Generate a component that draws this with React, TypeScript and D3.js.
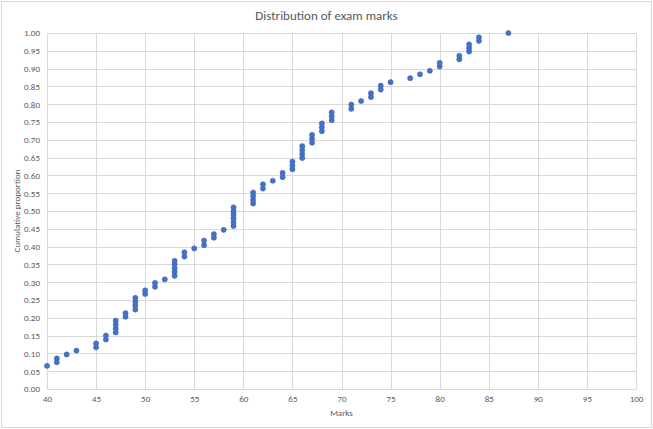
/**
 * D3 scatter chart: cumulative proportion of students by exam mark.
 */
import * as d3 from 'd3';
import { useEffect, useRef } from 'react';

// one entry per student
const marks = [
  40, 41, 41, 42, 43, 45, 45, 46, 46, 47, 47, 47, 47, 48, 48, 49, 49, 49, 49, 50, 50, 51, 51, 52,
  53, 53, 53, 53, 53, 54, 54, 55, 56, 56, 57, 57, 58, 59, 59, 59, 59, 59, 59, 61, 61, 61, 61, 62,
  62, 63, 64, 64, 65, 65, 65, 66, 66, 66, 66, 67, 67, 67, 68, 68, 68, 69, 69, 69, 71, 71, 72, 73,
  73, 74, 74, 75, 77, 78, 79, 80, 80, 82, 82, 83, 83, 83, 84, 84, 87,
];
const cumulative = [
  0.065, 0.075, 0.086, 0.097, 0.108, 0.117, 0.128, 0.139, 0.150, 0.159, 0.170, 0.181, 0.192, 0.203,
  0.213, 0.223, 0.234, 0.245, 0.256, 0.267, 0.277, 0.287, 0.298, 0.308, 0.318, 0.329, 0.339, 0.350,
  0.360, 0.372, 0.384, 0.395, 0.404, 0.417, 0.425, 0.435, 0.447, 0.458, 0.468, 0.479, 0.489, 0.499,
  0.510, 0.521, 0.531, 0.542, 0.552, 0.563, 0.575, 0.585, 0.595, 0.607, 0.617, 0.628, 0.639, 0.649,
  0.660, 0.671, 0.682, 0.692, 0.703, 0.714, 0.724, 0.735, 0.746, 0.755, 0.766, 0.777, 0.787, 0.799,
  0.809, 0.820, 0.831, 0.841, 0.852, 0.862, 0.873, 0.884, 0.894, 0.906, 0.916, 0.926, 0.936, 0.948,
  0.958, 0.968, 0.978, 0.988, 1.0,
];
const xTicks = [40, 45, 50, 55, 60, 65, 70, 75, 80, 85, 90, 95, 100];
const yTicks = d3.range(0, 21).map((i) => i / 20);

const FONT = 'Calibri, Carlito, "Liberation Sans", "Open Sans", sans-serif';
const TEXT = '#595959';
const GRID = '#d9d9d9';

export default function App() {
  const svgRef = useRef<SVGSVGElement>(null);

  useEffect(() => {
    if (!svgRef.current) return;

    const W = 653;
    const H = 429;
    const margin = { top: 33, right: 17, bottom: 40, left: 47 };
    const width = W - margin.left - margin.right;
    const height = H - margin.top - margin.bottom;

    const svg = d3.select(svgRef.current);
    svg.selectAll('*').remove();
    svg.attr('width', W).attr('height', H).style('font-family', FONT);

    svg
      .append('rect')
      .attr('x', 1.5)
      .attr('y', 1.5)
      .attr('width', W - 3)
      .attr('height', H - 3)
      .attr('fill', '#fff')
      .attr('stroke', GRID);

    const g = svg.append('g').attr('transform', `translate(${margin.left},${margin.top})`);

    const x = d3.scaleLinear().domain([40, 100]).range([0, width]);
    const y = d3.scaleLinear().domain([0, 1]).range([height, 0]);

    // Gridlines
    g.append('g')
      .selectAll('line')
      .data(yTicks)
      .join('line')
      .attr('x1', 0)
      .attr('x2', width)
      .attr('y1', (d) => Math.round(y(d)) + 0.5)
      .attr('y2', (d) => Math.round(y(d)) + 0.5)
      .attr('stroke', GRID);

    g.append('g')
      .selectAll('line')
      .data(xTicks)
      .join('line')
      .attr('y1', 0)
      .attr('y2', height)
      .attr('x1', (d) => Math.round(x(d)) + 0.5)
      .attr('x2', (d) => Math.round(x(d)) + 0.5)
      .attr('stroke', GRID);

    // Y axis
    const yAxis = g
      .append('g')
      .call(d3.axisLeft(y).tickValues(yTicks).tickSize(0).tickPadding(7).tickFormat(d3.format('.2f')));
    yAxis.select('.domain').remove();

    // X axis
    const xAxis = g
      .append('g')
      .attr('transform', `translate(0,${height})`)
      .call(d3.axisBottom(x).tickValues(xTicks).tickSize(0).tickPadding(7));
    xAxis.select('.domain').attr('stroke', GRID);

    g.selectAll('.tick text').style('fill', TEXT).style('font-size', '9px').style('font-family', FONT);

    // Points
    g.append('g')
      .selectAll('circle')
      .data(marks.map((m, i) => ({ m, p: cumulative[i] })))
      .join('circle')
      .attr('cx', (d) => x(d.m))
      .attr('cy', (d) => y(d.p))
      .attr('r', 2.6)
      .attr('fill', '#4472c4')
      .attr('stroke', '#3d65b0')
      .attr('stroke-width', 0.5);

    // Titles
    svg
      .append('text')
      .attr('x', W / 2)
      .attr('y', 20)
      .attr('text-anchor', 'middle')
      .style('font-size', '13px')
      .style('fill', TEXT)
      .text('Distribution of exam marks');

    svg
      .append('text')
      .attr('x', margin.left + width / 2)
      .attr('y', 416)
      .attr('text-anchor', 'middle')
      .style('font-size', '9px')
      .style('fill', TEXT)
      .text('Marks');

    svg
      .append('text')
      .attr('transform', `translate(20,${margin.top + height / 2}) rotate(-90)`)
      .attr('text-anchor', 'middle')
      .style('font-size', '9px')
      .style('fill', TEXT)
      .text('Cumulative proportion');
  }, []);

  return <svg ref={svgRef} style={{ position: 'absolute', left: 0, top: 0 }} />;
}
